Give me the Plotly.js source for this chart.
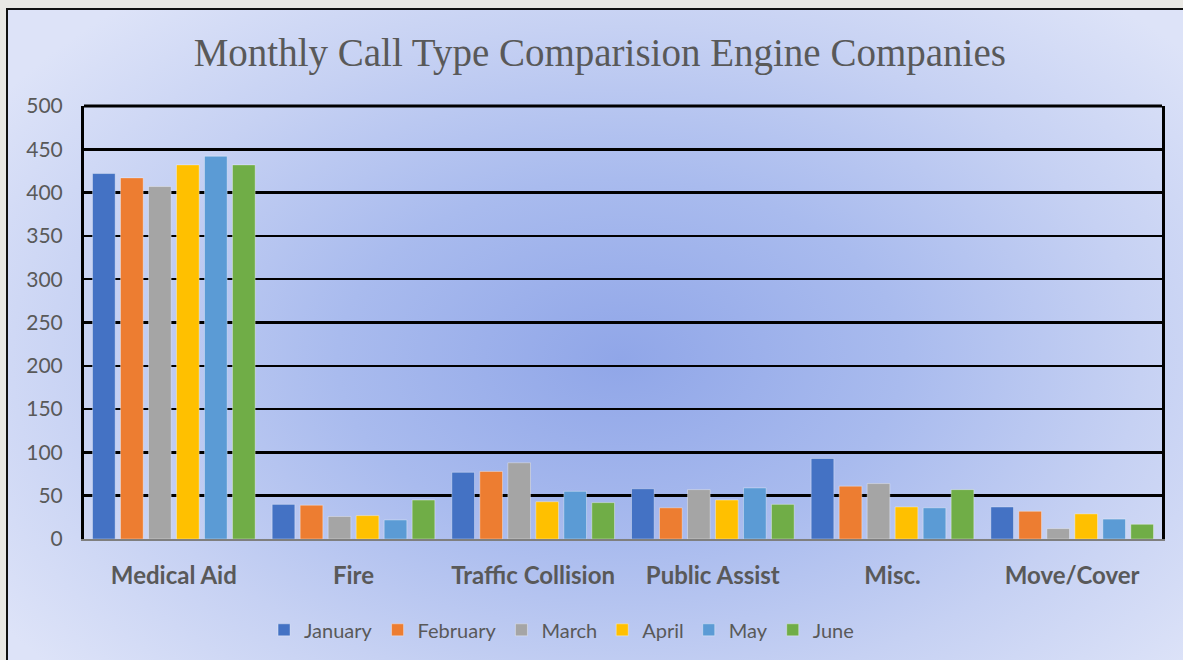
<!DOCTYPE html>
<html>
<head>
<meta charset="utf-8">
<script src="https://cdn.plot.ly/plotly-3.0.1.min.js"></script>
<style>
  html, body { margin: 0; padding: 0; width: 1183px; height: 660px; overflow: hidden; background: #e9e8e4; }
  #frame {
    position: absolute; left: 6px; top: 8px; width: 1200px; height: 700px;
    border: 2px solid #111;
    background: radial-gradient(ellipse 62% 68% at 51% 50%, #90a6e8 0%, #a9bbee 38%, #c6d1f3 70%, #dde3f8 100%);
  }
  #myDiv { position: absolute; left: 0; top: 0; width: 1183px; height: 660px; }
</style>
</head>
<body>
<div id="frame"></div>
<div id="myDiv"></div>
<script>
// call types + monthly counts
var callTypes = ['Medical Aid', 'Fire', 'Traffic Collision', 'Public Assist', 'Misc.', 'Move/Cover'];
var january  = [422, 40, 77, 58, 93, 37];
var february = [417, 39, 78, 36, 61, 32];
var march    = [407, 26, 88, 57, 64, 12];
var april    = [432, 27, 43, 45, 37, 29];
var may      = [442, 22, 55, 59, 36, 23];
var june     = [432, 45, 42, 40, 57, 17];

var months = ['January', 'February', 'March', 'April', 'May', 'June'];
var series = [january, february, march, april, may, june];
var colors = ['#4472C4', '#ED7D31', '#A5A5A5', '#FFC000', '#5B9BD5', '#70AD47'];

var data = [];
for (var i = 0; i < months.length; i++) {
    data.push({
        x: callTypes,
        y: series[i],
        name: months[i],
        type: 'bar',
        marker: { color: colors[i], line: { color: 'rgba(255,255,255,0.35)', width: 1 } },
        hoverinfo: 'none'
    });
}

var grey = '#595959';
var layout = {
    width: 1183,
    height: 660,
    paper_bgcolor: 'rgba(0,0,0,0)',
    plot_bgcolor: 'rgba(0,0,0,0)',
    margin: { l: 84, r: 21, t: 106, b: 120 },
    title: {
        text: 'Monthly Call Type Comparision Engine Companies',
        font: { family: 'Liberation Serif, serif', size: 39, color: grey },
        x: 0.507, xref: 'container',
        y: 0.921, yref: 'container', yanchor: 'middle'
    },
    barmode: 'group',
    bargap: 0.065,
    bargroupgap: 0.19,
    xaxis: {
        showgrid: false,
        showline: true,
        linecolor: '#7f7f7f',
        linewidth: 2,
        ticks: '',
        ticklabelstandoff: 14,
        tickfont: { family: 'Lato, sans-serif', size: 24, color: grey, weight: 'bold' }
    },
    yaxis: {
        range: [0, 500],
        dtick: 50,
        showgrid: true,
        gridcolor: '#000',
        gridwidth: 2.5,
        zeroline: false,
        showline: true,
        mirror: true,
        linecolor: '#000',
        linewidth: 3,
        ticks: '',
        ticklabelstandoff: 14,
        tickfont: { family: 'Lato, sans-serif', size: 21, color: grey }
    },
    shapes: [{
        type: 'line', xref: 'paper', yref: 'paper',
        x0: 0, x1: 1, y0: 1, y1: 1,
        line: { color: '#000', width: 3 }
    }],
    legend: {
        orientation: 'h',
        x: 0.443, xanchor: 'center',
        y: -0.207, yanchor: 'middle',
        font: { family: 'Lato, sans-serif', size: 20, color: grey },
        bgcolor: 'rgba(0,0,0,0)'
    },
    showlegend: true
};

Plotly.newPlot('myDiv', data, layout, { displayModeBar: false, staticPlot: true });
</script>
</body>
</html>
